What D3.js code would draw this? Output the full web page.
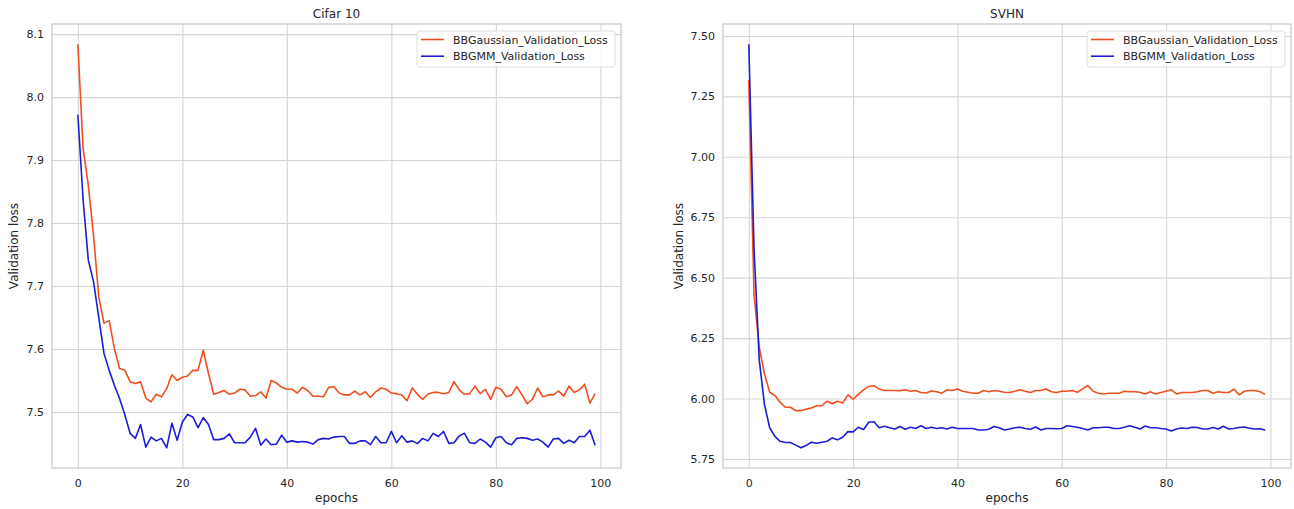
<!DOCTYPE html>
<html>
<head>
<meta charset="utf-8">
<script src="https://cdn.jsdelivr.net/npm/d3@7"></script>
<style>
  body { margin: 0; background: #fff; }
  svg text { font-family: "DejaVu Sans", sans-serif; fill: #262626; }
</style>
</head>
<body>
<svg id="chart" width="1294" height="509"></svg>
<script>
// epochs 0..99
const epochs = d3.range(0, 100);

const seriesNames = ["BBGaussian_Validation_Loss", "BBGMM_Validation_Loss"];
const seriesColors = ["#f04e1e", "#1c1cd9"];

// Cifar 10
const cifarGaussian = [
  8.084, 7.918, 7.860, 7.780, 7.683, 7.641, 7.645, 7.600, 7.569, 7.566,
  7.548, 7.545, 7.548, 7.522, 7.516, 7.528, 7.524, 7.537, 7.559, 7.550,
  7.555, 7.557, 7.566, 7.566, 7.598, 7.561, 7.528, 7.531, 7.534, 7.528,
  7.530, 7.536, 7.535, 7.525, 7.526, 7.532, 7.522, 7.550, 7.546, 7.539,
  7.536, 7.536, 7.530, 7.539, 7.534, 7.525, 7.525, 7.524, 7.539, 7.540,
  7.530, 7.527, 7.527, 7.533, 7.527, 7.532, 7.523, 7.532, 7.538, 7.536,
  7.530, 7.529, 7.527, 7.518, 7.538, 7.528, 7.520, 7.528, 7.531, 7.531,
  7.529, 7.531, 7.548, 7.535, 7.528, 7.529, 7.541, 7.529, 7.536, 7.520,
  7.539, 7.536, 7.524, 7.527, 7.540, 7.527, 7.513, 7.520, 7.538, 7.524,
  7.527, 7.527, 7.533, 7.525, 7.541, 7.531, 7.535, 7.544, 7.514, 7.529
];
const cifarGMM = [
  7.972, 7.837, 7.741, 7.707, 7.650, 7.593, 7.566, 7.542, 7.521, 7.495,
  7.466, 7.458, 7.480, 7.444, 7.460, 7.454, 7.458, 7.443, 7.482, 7.455,
  7.484, 7.496, 7.492, 7.475, 7.491, 7.480, 7.456, 7.456, 7.458, 7.465,
  7.451, 7.451, 7.451, 7.460, 7.474, 7.447, 7.457, 7.448, 7.449, 7.463,
  7.452, 7.454, 7.452, 7.453, 7.452, 7.449, 7.456, 7.458, 7.457, 7.460,
  7.461, 7.461, 7.450, 7.450, 7.454, 7.454, 7.448, 7.461, 7.451, 7.451,
  7.469, 7.451, 7.462, 7.452, 7.454, 7.450, 7.458, 7.454, 7.466, 7.461,
  7.469, 7.450, 7.451, 7.462, 7.466, 7.451, 7.450, 7.457, 7.452, 7.444,
  7.459, 7.461, 7.451, 7.448, 7.458, 7.459, 7.458, 7.455, 7.457, 7.452,
  7.444, 7.457, 7.458, 7.450, 7.455, 7.451, 7.461, 7.461, 7.471, 7.447
];

// SVHN
const svhnGaussian = [
  7.318, 6.430, 6.213, 6.102, 6.026, 6.012, 5.985, 5.964, 5.964, 5.950,
  5.950, 5.956, 5.961, 5.970, 5.970, 5.989, 5.978, 5.989, 5.981, 6.015,
  5.997, 6.017, 6.036, 6.050, 6.053, 6.039, 6.033, 6.033, 6.033, 6.032,
  6.036, 6.030, 6.033, 6.025, 6.023, 6.031, 6.028, 6.022, 6.036, 6.033,
  6.039, 6.030, 6.026, 6.022, 6.022, 6.033, 6.028, 6.033, 6.030, 6.026,
  6.025, 6.030, 6.036, 6.030, 6.025, 6.033, 6.033, 6.039, 6.028, 6.025,
  6.030, 6.030, 6.033, 6.026, 6.040, 6.054, 6.030, 6.022, 6.019, 6.022,
  6.022, 6.022, 6.030, 6.028, 6.028, 6.026, 6.019, 6.028, 6.019, 6.025,
  6.030, 6.036, 6.019, 6.025, 6.025, 6.025, 6.028, 6.033, 6.033, 6.022,
  6.028, 6.025, 6.025, 6.039, 6.015, 6.030, 6.033, 6.033, 6.028, 6.017
];
const svhnGMM = [
  7.466, 6.620, 6.160, 5.975, 5.879, 5.843, 5.823, 5.818, 5.818, 5.807,
  5.796, 5.806, 5.819, 5.815, 5.819, 5.823, 5.837, 5.829, 5.840, 5.863,
  5.862, 5.881, 5.872, 5.902, 5.904, 5.879, 5.885, 5.879, 5.874, 5.884,
  5.873, 5.881, 5.876, 5.887, 5.876, 5.881, 5.876, 5.879, 5.874, 5.881,
  5.876, 5.876, 5.876, 5.876, 5.870, 5.870, 5.873, 5.884, 5.879, 5.870,
  5.874, 5.879, 5.881, 5.876, 5.873, 5.882, 5.870, 5.876, 5.876, 5.875,
  5.876, 5.887, 5.884, 5.881, 5.876, 5.870, 5.879, 5.879, 5.881, 5.881,
  5.876, 5.876, 5.881, 5.887, 5.881, 5.874, 5.886, 5.879, 5.879, 5.876,
  5.874, 5.866, 5.874, 5.878, 5.876, 5.881, 5.880, 5.874, 5.874, 5.880,
  5.874, 5.885, 5.874, 5.876, 5.880, 5.882, 5.877, 5.874, 5.875, 5.870
];

const xTicks = [0, 20, 40, 60, 80, 100];
const cifarYTicks = [7.5, 7.6, 7.7, 7.8, 7.9, 8.0, 8.1];
const svhnYTicks = [5.75, 6.0, 6.25, 6.5, 6.75, 7.0, 7.25, 7.5];

const svg = d3.select("#chart");

/**
 * Draw one panel (matplotlib / seaborn whitegrid look)
 */
function drawPanel(opts) {
  const { left, right, top, bottom, title, series, yTicks, yFormat, yLabelX } = opts;

  // 5% margins like matplotlib autoscale
  const all = series.flat();
  const yMin = d3.min(all), yMax = d3.max(all);
  const yPad = (yMax - yMin) * 0.05;

  const x = d3.scaleLinear().domain([-4.95, 103.95]).range([left, right]);
  const y = d3.scaleLinear().domain([yMin - yPad, yMax + yPad]).range([bottom, top]);

  const g = svg.append("g");

  // grid
  g.append("g")
    .attr("transform", `translate(0,${bottom})`)
    .call(d3.axisBottom(x).tickValues(xTicks).tickSize(-(bottom - top)).tickFormat(d3.format("d")))
    .call(s => s.select(".domain").remove())
    .call(s => s.selectAll(".tick line").attr("stroke", "#d5d5d5").attr("stroke-width", 1.1))
    .call(s => s.selectAll(".tick text").attr("dy", "1.45em").attr("font-size", 11).style("fill", "#262626"));

  g.append("g")
    .attr("transform", `translate(${left},0)`)
    .call(d3.axisLeft(y).tickValues(yTicks).tickSize(-(right - left)).tickFormat(d3.format(yFormat)))
    .call(s => s.select(".domain").remove())
    .call(s => s.selectAll(".tick line").attr("stroke", "#d5d5d5").attr("stroke-width", 1.1))
    .call(s => s.selectAll(".tick text").attr("dx", "-0.45em").attr("font-size", 11).style("fill", "#262626"));

  // frame
  g.append("rect")
    .attr("x", left).attr("y", top)
    .attr("width", right - left).attr("height", bottom - top)
    .attr("fill", "none")
    .attr("stroke", "#cccccc")
    .attr("stroke-width", 1.3);

  // lines
  const line = d3.line().x((d, i) => x(epochs[i])).y(d => y(d));
  series.forEach((s, i) => {
    g.append("path")
      .datum(s)
      .attr("fill", "none")
      .attr("stroke", seriesColors[i])
      .attr("stroke-width", 1.6)
      .attr("stroke-linejoin", "round")
      .attr("d", line);
  });

  // titles and labels
  g.append("text")
    .attr("x", (left + right) / 2).attr("y", 18)
    .attr("text-anchor", "middle")
    .attr("font-size", 12)
    .text(title);

  g.append("text")
    .attr("x", (left + right) / 2).attr("y", 502)
    .attr("text-anchor", "middle")
    .attr("font-size", 12)
    .text("epochs");

  g.append("text")
    .attr("transform", `translate(${yLabelX},${(top + bottom) / 2}) rotate(-90)`)
    .attr("text-anchor", "middle")
    .attr("font-size", 12)
    .text("Validation loss");

  // legend, top right
  const lw = 198, lh = 36;
  const lx = right - 6 - lw, ly = top + 7;
  const leg = g.append("g").attr("transform", `translate(${lx},${ly})`);
  leg.append("rect")
    .attr("width", lw).attr("height", lh)
    .attr("rx", 3)
    .attr("fill", "#fff").attr("fill-opacity", 0.85)
    .attr("stroke", "#dddddd");
  seriesNames.forEach((name, i) => {
    const yy = 8.5 + i * 16.7;
    leg.append("line")
      .attr("x1", 4).attr("x2", 27)
      .attr("y1", yy).attr("y2", yy)
      .attr("stroke", seriesColors[i])
      .attr("stroke-width", 1.6);
    leg.append("text")
      .attr("x", 36).attr("y", yy + 4)
      .attr("font-size", 11)
      .text(name);
  });
}

drawPanel({
  left: 52, right: 621, top: 24, bottom: 468,
  title: "Cifar 10",
  series: [cifarGaussian, cifarGMM],
  yTicks: cifarYTicks, yFormat: ".1f", yLabelX: 18
});

drawPanel({
  left: 723, right: 1291, top: 24, bottom: 468,
  title: "SVHN",
  series: [svhnGaussian, svhnGMM],
  yTicks: svhnYTicks, yFormat: ".2f", yLabelX: 683
});
</script>
</body>
</html>
